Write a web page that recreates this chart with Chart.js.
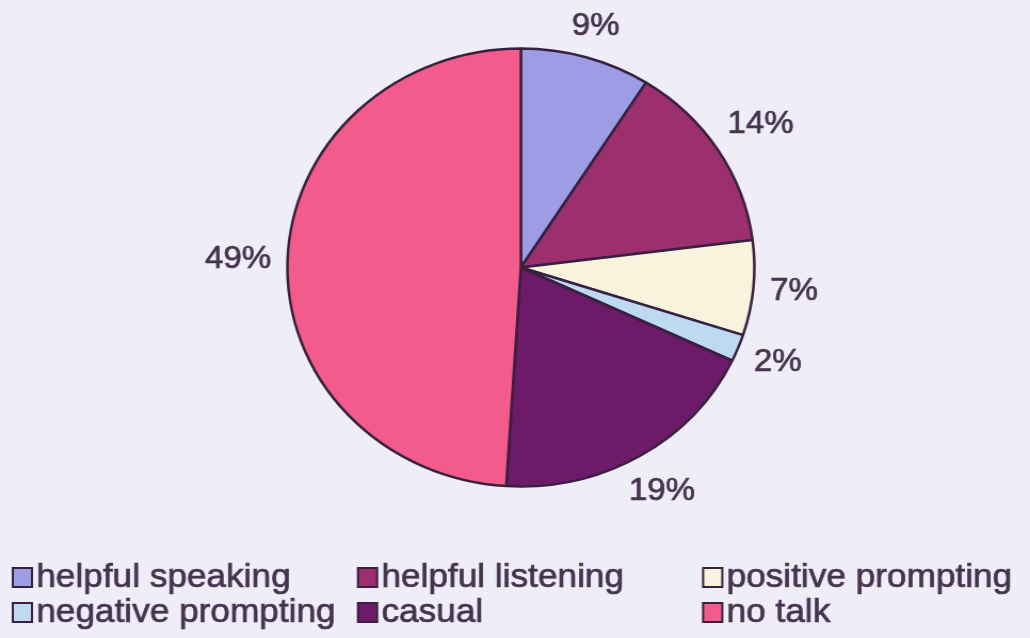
<!DOCTYPE html>
<html lang="en">
<head>
    <meta charset="UTF-8">
    <title>Talk categories</title>
    <style>
        body {
            margin: 0;
            padding: 0;
            background-color: #efedf7;
            overflow: hidden;
        }

        /* the chart is drawn a little narrower and stretched sideways */
        .stage {
            width: 966px;
            height: 638px;
            transform: scaleX(1.0663);
            transform-origin: 0 0;
        }
    </style>
    <script src="https://cdn.jsdelivr.net/npm/chart.js"></script>
</head>
<body>
    <div class="stage">
        <canvas id="talkChart"></canvas>
    </div>

    <script>
        const categories = ['helpful speaking', 'helpful listening', 'positive prompting',
                            'negative prompting', 'casual', 'no talk'];
        const shares = [9, 14, 7, 2, 19, 49];
        const sliceColors = ['#9d9de6', '#9c306f', '#f7f3dc', '#bddaf2', '#6d1a68', '#f25b8b'];

        const inkColor = '#45344f';
        const edgeColor = '#3a2040';
        const labelFont = '31px "Liberation Sans", Arial, sans-serif';
        const legendFont = '33px "Liberation Sans", Arial, sans-serif';

        // fill plus a thin outline so the text reads a bit heavier
        function heavyText(ctx, text, x, y) {
            ctx.fillText(text, x, y);
            ctx.lineWidth = 0.7;
            ctx.strokeStyle = inkColor;
            ctx.strokeText(text, x, y);
        }

        // percentage labels just outside each slice, along its middle angle
        const outsideLabels = {
            id: 'outsideLabels',
            afterDatasetsDraw(chart) {
                const ctx = chart.ctx;
                const meta = chart.getDatasetMeta(0);
                const values = chart.data.datasets[0].data;
                ctx.save();
                ctx.font = labelFont;
                ctx.fillStyle = inkColor;
                ctx.textAlign = 'center';
                ctx.textBaseline = 'middle';
                meta.data.forEach((arc, i) => {
                    const text = values[i] + '%';
                    const mid = (arc.startAngle + arc.endAngle) / 2;
                    const dx = Math.cos(mid), dy = Math.sin(mid);
                    const w = ctx.measureText(text).width;
                    const h = 23;
                    const extent = Math.abs(dx) * w / 2 + Math.abs(dy) * h / 2;
                    const d = arc.outerRadius + 15 + extent;
                    heavyText(ctx, text, arc.x + dx * d, arc.y + dy * d);
                });
                ctx.restore();
            }
        };

        // legend in a three column grid under the pie
        const gridLegend = {
            id: 'gridLegend',
            afterDraw(chart) {
                const ctx = chart.ctx;
                const colors = chart.data.datasets[0].backgroundColor;
                const colWidth = 323.7;
                const rowHeight = 35;
                const left = 12, top = 568;
                ctx.save();
                ctx.font = legendFont;
                ctx.textBaseline = 'alphabetic';
                chart.data.labels.forEach((label, i) => {
                    const x = left + (i % 3) * colWidth;
                    const y = top + Math.floor(i / 3) * rowHeight;
                    ctx.fillStyle = colors[i];
                    ctx.fillRect(x, y, 18, 19);
                    ctx.strokeStyle = edgeColor;
                    ctx.lineWidth = 2;
                    ctx.strokeRect(x, y, 18, 19);
                    ctx.fillStyle = inkColor;
                    heavyText(ctx, label, x + 22, y + 19);
                });
                ctx.restore();
            }
        };

        new Chart(document.getElementById('talkChart'), {
            type: 'pie',
            data: {
                labels: categories,
                datasets: [{
                    data: shares,
                    backgroundColor: sliceColors,
                    borderColor: edgeColor,
                    borderWidth: 2.5
                }]
            },
            options: {
                responsive: true,
                maintainAspectRatio: false,
                animation: false,
                radius: 219,
                layout: {
                    padding: { left: 11, right: 0, top: 0, bottom: 103 }
                },
                plugins: {
                    legend: { display: false },
                    tooltip: { enabled: false }
                }
            },
            plugins: [outsideLabels, gridLegend]
        });
    </script>
</body>
</html>
